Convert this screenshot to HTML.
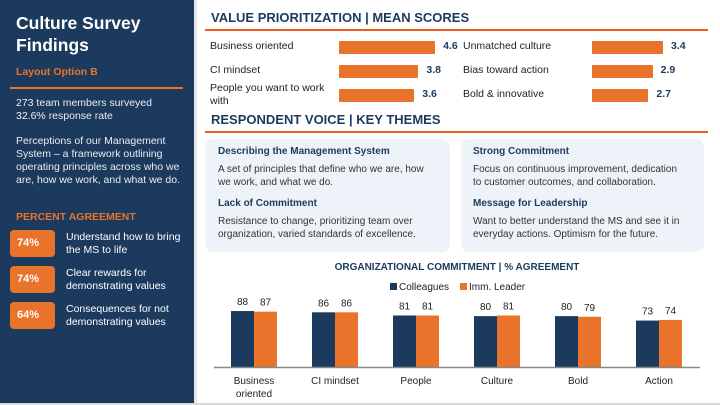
<!DOCTYPE html>
<html><head><meta charset="utf-8">
<style>
*{margin:0;padding:0;box-sizing:border-box}
body{width:720px;height:405px;background:#fff;font-family:"Liberation Sans",sans-serif;position:relative;overflow:hidden;color:#1b2a3a}
.abs{position:absolute}
#side{left:0;top:0;width:194px;height:403px;background:#1c3a5e;color:#fff}
.h2{font-weight:bold;color:#1c3a5e;font-size:13px}
.lbl{font-size:10.5px;color:#222}
.val{font-size:10.5px;font-weight:bold;color:#1c3a5e}
.bar{background:#e9732b;height:13px;border-radius:1px}
.box{background:#eef3f9;border-radius:8px}
.bt{font-weight:bold;font-size:10px;color:#1c3a5e}
.bx{font-size:10px;color:#333;line-height:13px}
.pct{left:10px;width:45px;height:27px;background:#e9732b;border-radius:4px;color:#fff;font-weight:bold;font-size:11px;line-height:27px;padding-left:7px}
.pl{left:66px;font-size:10.5px;line-height:13px;color:#fff}
</style></head><body>
<div id="side" class="abs">
<div class="abs" style="left:16px;top:12px;font-size:17.5px;font-weight:bold;line-height:22px">Culture Survey<br>Findings</div>
<div class="abs" style="left:16px;top:66px;font-size:10.5px;font-weight:bold;color:#e9732b">Layout Option B</div>
<div class="abs" style="left:10px;top:87px;width:173px;height:2px;background:#e9732b"></div>
<div class="abs" style="left:16px;top:97px;font-size:10.5px;line-height:13px;color:#e8edf3">273 team members surveyed<br>32.6% response rate</div>
<div class="abs" style="left:16px;top:135px;font-size:10.5px;line-height:13px;color:#e8edf3;width:178px">Perceptions of our Management<br>System – a framework outlining<br>operating principles across who we<br>are, how we work, and what we do.</div>
<div class="abs" style="left:16px;top:211px;font-size:10.5px;font-weight:bold;color:#e9732b">PERCENT AGREEMENT</div>
<div class="abs pct" style="top:230px">74%</div>
<div class="abs pl" style="top:231px">Understand how to bring<br>the MS to life</div>
<div class="abs pct" style="top:266px">74%</div>
<div class="abs pl" style="top:267px">Clear rewards for<br>demonstrating values</div>
<div class="abs pct" style="top:302px">64%</div>
<div class="abs pl" style="top:303px">Consequences for not<br>demonstrating values</div>
</div>
<div class="abs" style="left:194px;top:0;width:3px;height:405px;background:#e6e6e6"></div>
<div class="abs" style="left:0;top:403px;width:720px;height:2px;background:#d8d8d8"></div>

<div class="abs h2" style="left:211px;top:10px">VALUE PRIORITIZATION | MEAN SCORES</div>
<div class="abs" style="left:205px;top:29px;width:503px;height:1.5px;background:#e9601e"></div>
<div id="vals"></div>

<div class="abs h2" style="left:211px;top:112px">RESPONDENT VOICE | KEY THEMES</div>
<div class="abs" style="left:205px;top:131px;width:503px;height:1.5px;background:#e9601e"></div>
<div class="abs box" style="left:205px;top:139px;width:245px;height:113px"></div>
<div class="abs box" style="left:461px;top:139px;width:243px;height:113px"></div>
<div class="abs bt" style="left:218px;top:146px">Describing the Management System</div>
<div class="abs bx" style="left:218px;top:163px">A set of principles that define who we are, how<br>we work, and what we do.</div>
<div class="abs bt" style="left:218px;top:198px">Lack of Commitment</div>
<div class="abs bx" style="left:218px;top:215px">Resistance to change, prioritizing team over<br>organization, varied standards of excellence.</div>
<div class="abs bt" style="left:473px;top:146px">Strong Commitment</div>
<div class="abs bx" style="left:473px;top:163px">Focus on continuous improvement, dedication<br>to customer outcomes, and collaboration.</div>
<div class="abs bt" style="left:473px;top:198px">Message for Leadership</div>
<div class="abs bx" style="left:473px;top:215px">Want to better understand the MS and see it in<br>everyday actions. Optimism for the future.</div>

<svg class="abs" style="left:0;top:0" width="720" height="405" id="chart">
<text x="457" y="270" text-anchor="middle" font-size="10" font-weight="bold" fill="#1c3a5e">ORGANIZATIONAL COMMITMENT | % AGREEMENT</text>
<rect x="390" y="283" width="7" height="7" fill="#1c3a5e"/>
<text x="399" y="290" font-size="10" fill="#222">Colleagues</text>
<rect x="460" y="283" width="7" height="7" fill="#e9732b"/>
<text x="469" y="290" font-size="10" fill="#222">Imm. Leader</text>
<g id="marks"></g>
</svg>
<script>
const valueNames=["Business oriented","CI mindset","People you want to work with","Unmatched culture","Bias toward action","Bold & innovative"];
const valueScores=[4.6,3.8,3.6,3.4,2.9,2.7];
const categories=["Business|oriented","CI mindset","People","Culture","Bold","Action"];
const colleagues=[88,86,81,80,80,73];
const leader=[87,86,81,81,79,74];

const vc=document.getElementById('vals');
valueScores.forEach((v,i)=>{
  const col=Math.floor(i/3),row=i%3;
  const lx=col?463:210, bx=col?592:339, cy=47+row*24;
  const l=document.createElement('div');l.className='abs lbl';
  l.style.left=lx+'px';l.style.width='125px';l.style.lineHeight='13px';
  l.style.top=(valueNames[i].length>20?cy-13:cy-7)+'px';
  l.textContent=valueNames[i];
  
  
  vc.appendChild(l);
  const w=v*20.9;
  const b=document.createElement('div');b.className='abs bar';
  b.style.left=bx+'px';b.style.top=(cy-6)+'px';b.style.width=w+'px';
  
  
  vc.appendChild(b);
  const t=document.createElement('div');t.className='abs val';
  t.style.left=(bx+w+8)+'px';t.style.top=(cy-7)+'px';t.textContent=v.toFixed(1);
  
  
  vc.appendChild(t);
});

const NS='http://www.w3.org/2000/svg',g=document.getElementById('marks');
const base=367, k=0.636, bw=23;
const xc=i=>254+i*81, yv=v=>base-v*k;
function mk(tag,attrs){const e=document.createElementNS(NS,tag);for(const a in attrs)e.setAttribute(a,attrs[a]);g.appendChild(e);return e;}
categories.forEach((c,i)=>{
  [[colleagues[i],xc(i)-bw,'#1c3a5e'],[leader[i],xc(i),'#e9732b']].forEach(([v,x,f],s)=>{
    const r=mk('rect',{x:x,y:yv(v),width:bw,height:v*k,fill:f});
    
    
    const t=mk('text',{x:x+bw/2,y:yv(v)-6,'text-anchor':'middle','font-size':'10',fill:'#222'});
    t.textContent=v;
    
    
  });
  c.split('|').forEach((ln,j)=>{
    const t=mk('text',{x:xc(i),y:384+j*13,'text-anchor':'middle','font-size':'10',fill:'#222'});
    t.textContent=ln;
    
    
  });
});
const ax=mk('line',{x1:214,x2:700,y1:base+0.5,y2:base+0.5,stroke:'#888','stroke-width':1.5});


</script>
</body></html>
